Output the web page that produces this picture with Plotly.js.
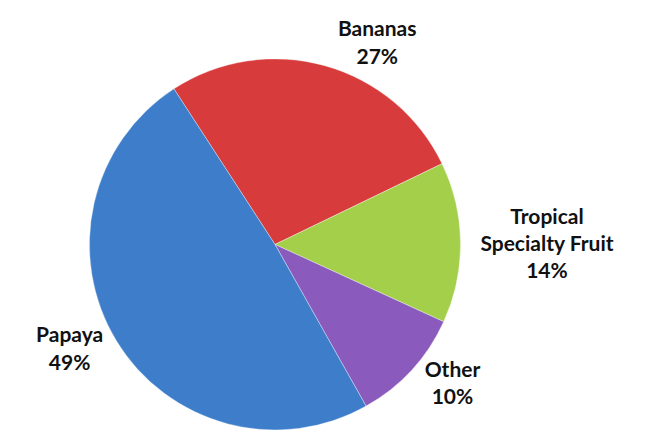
<!DOCTYPE html>
<html><head><meta charset="utf-8">
<script src="https://cdn.plot.ly/plotly-3.0.1.min.js"></script>
<style>html,body{margin:0;padding:0;background:#fff}#chart{width:648px;height:430px}</style>
</head><body><div id="chart"></div>
<script>
const categories = ["Bananas", "Tropical<br>Specialty Fruit", "Other", "Papaya"];
const shares = [27, 14, 10, 49];
const sliceColors = ["#D73B3B", "#A3CF4B", "#8A5BBD", "#3D7DCA"];

const labelFont = {family: "Lato, 'Open Sans', sans-serif", size: 21, color: "#111", weight: "bold"};
const trace = {
  type: "pie",
  labels: categories,
  values: shares,
  sort: false,
  direction: "clockwise",
  rotation: -33,
  marker: {colors: sliceColors, line: {color: "rgba(255,255,255,0.35)", width: 1}},
  textposition: "outside",
  texttemplate: "%{label}<br>%{percent:.0%}",
  textfont: labelFont,
  outsidetextfont: labelFont,
  automargin: false,
  domain: {x: [0.1373, 0.7114], y: [0, 0.863]},
  hoverinfo: "none"
};
Plotly.newPlot("chart", [trace], {
  width: 648, height: 430,
  margin: {l: 0, r: 0, t: 0, b: 0},
  showlegend: false,
  paper_bgcolor: "#fff"
}, {displayModeBar: false, staticPlot: true});
</script></body></html>
